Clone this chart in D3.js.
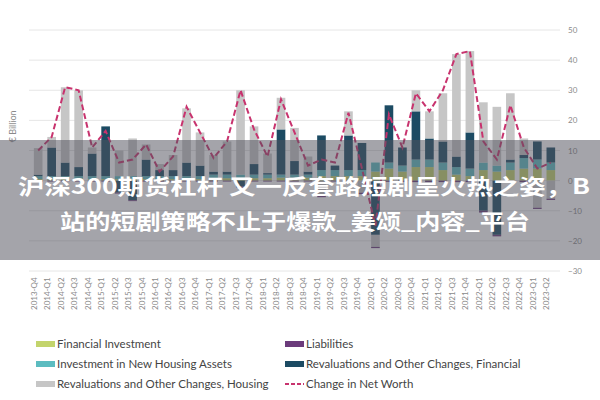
<!DOCTYPE html>
<html>
<head>
<meta charset="utf-8">
<script src="https://d3js.org/d3.v7.min.js"></script>
<style>
  body { margin: 0; background: #fff; }
  .tick text { fill: #8a8a8a; font-size: 8px; font-family: Lato, sans-serif; }
  .legend text { fill: #444; font-size: 11.5px; font-family: Lato, sans-serif; }
</style>
</head>
<body>
<svg id="chart" width="600" height="400"></svg>
<script>
// quarters 2013-Q4 .. 2023-Q2
const quarters = [];
for (let y = 2013, q = 4; !(y === 2023 && q === 3); q++) {
  if (q > 4) { q = 1; y++; }
  if (y === 2023 && q === 3) break;
  quarters.push(y + '-Q' + q);
}

const financialInvestment = [0.5,0.5,0.5,0.5,0.5,0.5,0.5,0.5,0.5,0.5,0.5,0.5,0.5,0.8,0.8,0.8,0.8,0.8,1,1,1,1.5,1.5,1.5,1.5,3,4,3,4.5,4.5,3.5,2,1.5,3.5,3,3.5,4,4,3.5];
const housingInvestment   = [1,1,1,1,1,1,1,1,1,1,1,1,1,1.2,1.2,1.2,1.2,1.2,1,1,1,2,2,2,2,3,2,2,2.5,2.5,2.5,2.5,2.5,2.5,2,2.5,3.5,3,2.5];
const revalFinancial      = [0.5,9.5,4.5,3,7.5,16.5,-4,-6.5,5.5,2,2,4.5,3.5,1,1,-2,3.5,0.5,15,4.5,1,11.5,1.5,11.5,9,-18,19,6,16,7,7,3.5,12,-10,-18,1,1,6,5];
const revalHousing        = [8.8,3.5,25,25.5,2,0,8.5,12.5,5,2,5,18,11,5.5,10,28,12.5,6.5,10.5,11,5,-5,0,8,-4,-4,0,0,7,9,16,34,27,20,19.5,22,5.5,-9,-6];
const liabilities         = [-0.3,-0.3,-0.3,-0.3,-0.3,-0.3,-0.3,-0.3,-0.3,-0.3,-0.3,-0.3,-0.3,-0.3,-0.3,-0.3,-0.3,-0.3,-0.3,-0.3,-0.3,-0.5,-0.3,-0.3,-0.5,-0.4,-0.4,-0.4,-0.5,-0.5,-0.5,-0.5,-0.5,-0.6,-0.5,-0.5,-0.5,-0.4,-0.4];
const netWorth            = [10,14.5,31,30,11,16.5,6,7,12,3,8,24.5,16,7.5,13,30,17,8,27,16,5,7,6,22.5,4,-15,22,11,29,23,30,42,43,13,7,25,11,4,6];

const yTicks = [50,40,30,20,10,0,-10,-20,-30];

const keys = ['fi','hi','rf','rh','li'];
const colors = { fi: '#c3d46c', hi: '#5cbcc0', rf: '#1c4b63', rh: '#c6c6c6', li: '#6b3b7b' };
const lineColor = '#c8336e';

const rows = quarters.map((q, i) => ({
  q, fi: financialInvestment[i], hi: housingInvestment[i], rf: revalFinancial[i],
  rh: revalHousing[i], li: liabilities[i]
}));

const svg = d3.select('#chart');
const margin = { left: 29, right: 40, top: 30, bottom: 129 };
const width = 600, height = 400;

const x = d3.scaleBand().domain(quarters).range([margin.left, width - margin.right]).padding(0.36);
const y = d3.scaleLinear().domain([-30, 50]).range([height - margin.bottom, margin.top]);

// grid
svg.append('g').selectAll('line').data(yTicks).join('line')
  .attr('x1', margin.left).attr('x2', width - margin.right)
  .attr('y1', d => y(d)).attr('y2', d => y(d))
  .attr('stroke', '#e6e6e6').attr('stroke-width', 1);

// right axis
const yAxis = svg.append('g')
  .attr('transform', `translate(${width - margin.right + 4},0)`)
  .call(d3.axisRight(y).tickValues(yTicks).tickSize(0).tickPadding(4));
yAxis.select('.domain').remove();

svg.append('text')
  .attr('transform', `translate(16,${y(18)}) rotate(-90)`)
  .attr('text-anchor', 'middle')
  .attr('fill', '#8a8a8a').attr('font-size', 9).attr('font-family', 'Lato, sans-serif')
  .text('€ Billion');

// bars
const series = d3.stack().keys(keys).offset(d3.stackOffsetDiverging)(rows);
svg.append('g').selectAll('g').data(series).join('g')
  .attr('fill', d => colors[d.key])
  .selectAll('rect').data(d => d).join('rect')
  .attr('x', d => x(d.data.q))
  .attr('width', x.bandwidth())
  .attr('y', d => y(Math.max(d[0], d[1])))
  .attr('height', d => Math.abs(y(d[0]) - y(d[1])));

// net worth line
svg.append('path')
  .datum(netWorth)
  .attr('fill', 'none').attr('stroke', lineColor).attr('stroke-width', 2)
  .attr('stroke-dasharray', '6,3')
  .attr('d', d3.line().x((d, i) => x(quarters[i]) + x.bandwidth() / 2).y(d => y(d)));

// x labels
const xAxis = svg.append('g')
  .attr('transform', `translate(0,${y(-30) + 4})`)
  .call(d3.axisBottom(x).tickSize(0).tickPadding(2));
xAxis.select('.domain').remove();
xAxis.selectAll('text')
  .attr('transform', 'rotate(-90)')
  .attr('text-anchor', 'end')
  .attr('dx', '-0.3em').attr('dy', '-0.45em')
  .attr('font-size', 7);

// legend
const legendItems = [
  { label: 'Financial Investment', color: colors.fi, col: 0, row: 0 },
  { label: 'Investment in New Housing Assets', color: colors.hi, col: 0, row: 1 },
  { label: 'Revaluations and Other Changes, Housing', color: colors.rh, col: 0, row: 2 },
  { label: 'Liabilities', color: colors.li, col: 1, row: 0 },
  { label: 'Revaluations and Other Changes, Financial', color: colors.rf, col: 1, row: 1 },
  { label: 'Change in Net Worth', color: lineColor, col: 1, row: 2, dash: true }
];
const lg = svg.append('g').attr('class', 'legend').selectAll('g').data(legendItems).join('g')
  .attr('transform', d => `translate(${d.col ? 285 : 36},${344 + d.row * 20})`);
lg.filter(d => !d.dash).append('rect')
  .attr('x', 0).attr('y', -3).attr('width', 19).attr('height', 6).attr('fill', d => d.color);
lg.filter(d => d.dash).append('line')
  .attr('x1', 0).attr('x2', 19).attr('y1', 0).attr('y2', 0)
  .attr('stroke', d => d.color).attr('stroke-width', 2).attr('stroke-dasharray', '4,2');
lg.append('text').attr('x', 21).attr('dy', '0.35em').text(d => d.label);

// overlay banner
svg.append('rect').attr('x', 0).attr('y', 140).attr('width', width).attr('height', 120)
  .attr('fill', 'rgba(80,80,92,0.52)');
const title = svg.append('g').attr('fill', '#fff').attr('font-weight', 'bold')
  .attr('font-family', '"Noto Sans CJK SC", sans-serif').attr('font-size', 21);
title.append('text').attr('x', 18).attr('y', 194)
  .attr('textLength', 572).attr('lengthAdjust', 'spacingAndGlyphs')
  .text('沪深300期货杠杆 又一反套路短剧呈火热之姿，B');
title.append('text').attr('x', 60).attr('y', 229)
  .attr('textLength', 470).attr('lengthAdjust', 'spacingAndGlyphs')
  .text('站的短剧策略不止于爆款_姜颂_内容_平台');
</script>
</body>
</html>
